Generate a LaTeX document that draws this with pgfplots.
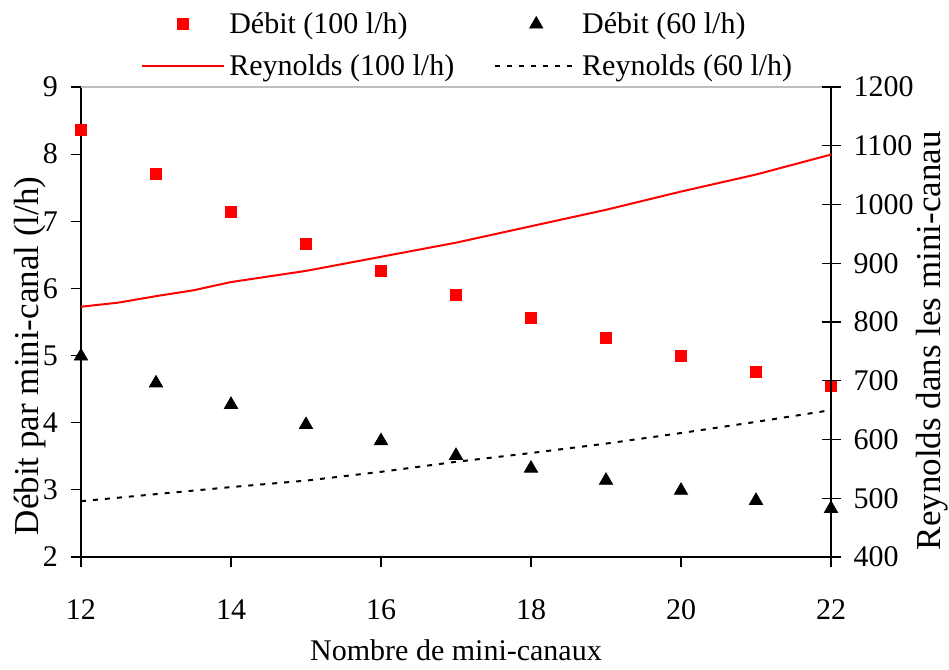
\documentclass[border=0pt]{standalone}
\usepackage{fontspec}
\setmainfont{Liberation Serif}
\usepackage{pgfplots}
\pgfplotsset{compat=1.18}
\pgfplotsset{
  legend image code/.code={\path[draw=none,fill=none] (0bp,-2bp) rectangle (41bp,2bp);\draw[mark repeat=2,mark phase=2,#1] plot coordinates {(0bp,0bp) (20.5bp,0bp) (41bp,0bp)};},
}
\begin{document}
\begin{tikzpicture}
\useasboundingbox (0,0) rectangle (474.5bp,335bp);
\begin{axis}[
  at={(40.5bp,56.5bp)}, anchor=south west,
  scale only axis, width=375bp, height=235bp,
  xmin=12, xmax=22, ymin=2, ymax=9,
  xtick={12,14,...,22}, ytick={2,3,...,9},
  axis x line*=bottom, axis y line*=left,
  tick align=outside, major tick length=5bp,
  tick style={black, line width=0.6bp},
  axis line style={black, line width=0.8bp},
  /pgf/number format/assume math mode=true,
  ticklabel style={font=\fontsize{15bp}{18bp}\selectfont},
  xticklabel shift=13bp, yticklabel shift=3bp,
  xlabel={Nombre de mini-canaux},
  ylabel={Débit par mini-canal (l/h)},
  every axis x label/.style={at={(axis description cs:0.5,-0.198)}, anchor=center, font=\fontsize{15bp}{18bp}\selectfont},
  every axis y label/.style={at={(axis description cs:-0.068,0.428)}, rotate=90, anchor=center, font=\fontsize{17.5bp}{20bp}\selectfont},
  legend columns=2, legend cell align=left,
  legend style={draw=none, fill=none, font=\fontsize{15bp}{18bp}\selectfont,
    at={(axis description cs:0.517,1.089)}, anchor=center,
    /tikz/every even column/.append style={column sep=18bp}, row sep=5bp},
  extra description/.code={\draw[gray!50, line width=0.6bp] (rel axis cs:0,1) -- (rel axis cs:1,1);},
  clip=false,
]
\addplot[only marks, mark=square*, mark size=2.75bp, color=red] coordinates {
  (12,8.36) (13,7.71) (14,7.14) (15,6.67) (16,6.255) (17,5.90)
  (18,5.56) (19,5.27) (20,5.00) (21,4.76) (22,4.55)};
\addlegendentry{\rlap{Débit (100 l/h)}\phantom{Reynolds (100 l/h)}}
\addplot[only marks, mark=triangle*, mark size=3.8bp, color=black] coordinates {
  (12,4.99) (13,4.59) (14,4.27) (15,3.97) (16,3.73) (17,3.51)
  (18,3.32) (19,3.14) (20,2.99) (21,2.84) (22,2.72)};
\addlegendentry{\rlap{Débit (60 l/h)}\phantom{Reynolds (60 l/h)}}
\addlegendimage{red, line width=1bp}
\addlegendentry{Reynolds (100 l/h)}
\addlegendimage{black, line width=1bp, dash pattern=on 2.5bp off 3.5bp}
\addlegendentry{Reynolds (60 l/h)}
\end{axis}
\begin{axis}[
  at={(40.5bp,56.5bp)}, anchor=south west,
  scale only axis, width=375bp, height=235bp,
  xmin=12, xmax=22, ymin=400, ymax=1200,
  ytick={400,500,...,1200},
  axis x line=none, axis y line*=right,
  tick align=center, major tick length=9.5bp,
  tick style={black, line width=0.6bp},
  axis line style={black, line width=0.8bp},
  /pgf/number format/assume math mode=true,
  /pgf/number format/1000 sep={},
  ticklabel style={font=\fontsize{15bp}{18bp}\selectfont},
  yticklabel shift=3bp,
  ylabel={Reynolds dans les mini-canau},
  every axis y label/.style={at={(axis description cs:1.135,0.46)}, rotate=90, anchor=center, font=\fontsize{17.5bp}{20bp}\selectfont},
  clip=false,
]
\addplot[red, line width=1bp, mark=none] coordinates {
  (12,826) (12.5,833) (13,844) (13.5,854) (14,868) (15,887) (16,911)
  (17,935) (18,963) (19,991) (20,1022) (21,1051) (22,1085)};
\addplot[black, line width=1bp, dash pattern=on 2.5bp off 3.5bp, mark=none] coordinates {
  (12,495) (13,507) (14,519) (15,530) (16,545) (17,562)
  (18,577) (19,593) (20,611) (21,630) (22,650)};
\end{axis}
\end{tikzpicture}
\end{document}
